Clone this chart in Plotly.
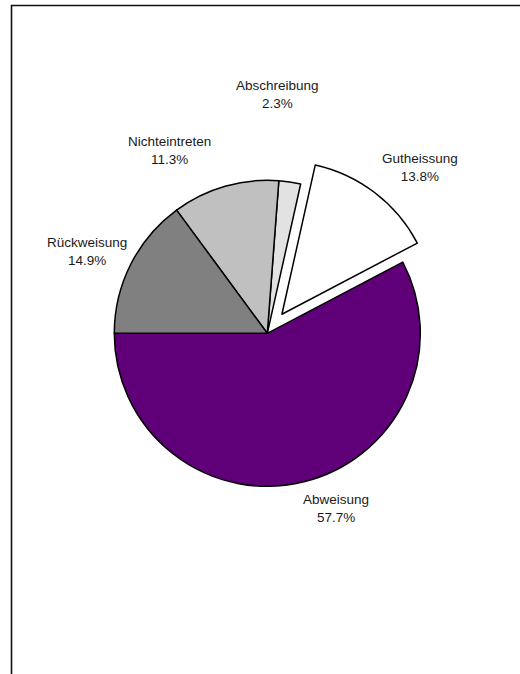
import math
import plotly.graph_objects as go

# ---- data ----
labels = ["Abweisung", "Gutheissung", "Abschreibung", "Nichteintreten", "Rückweisung"]
values = [57.7, 13.8, 2.3, 11.3, 14.9]
colors = ["#5F0078", "#FFFFFF", "#E2E2E2", "#C0C0C0", "#808080"]
pulls = [0, 0.157, 0, 0, 0]

# ---- layout geometry (pixels) ----
W, H = 520, 674
cx, cy, r = 267.3, 333.3, 153.0
maxpull = max(pulls)
box = 2 * r * (1 + maxpull)
dom_x = [(cx - box / 2) / W, (cx + box / 2) / W]
dom_y = [1 - (cy + box / 2) / H, 1 - (cy - box / 2) / H]
total = sum(values)
start_angle = 180.0  # math degrees (9 o'clock); first slice runs down from here
rotation = 270 - 360 * values[0] / total  # plotly: first slice clockwise from rotation

# label placement (Excel-like outside labels): radial factor and angle tweak
label_dist = [1.227, 1.319, 1.565, 1.356, 1.293]
label_nudge = [7.6, -5.2, 6.0, 12.0, 2.5]

fig = go.Figure(go.Pie(
    labels=labels, values=values, sort=False,
    direction="counterclockwise", rotation=rotation,
    pull=pulls, textinfo="none", hoverinfo="label+percent",
    marker=dict(colors=colors, line=dict(color="#000000", width=1.5)),
    domain=dict(x=dom_x, y=dom_y), showlegend=False,
))

cum = 0.0
annotations = []
for lab, v, p, nd, ld in zip(labels, values, pulls, label_nudge, label_dist):
    mid = start_angle + 360 * (cum + v / 2) / total
    cum += v
    a = math.radians(mid + nd)
    d = r * (ld + p)
    x = cx + d * math.cos(a)
    y = cy - d * math.sin(a)
    annotations.append(dict(
        x=x / W, y=1 - y / H, xref="paper", yref="paper",
        text=f"{lab}<br>{v / total * 100:.1f}%", showarrow=False,
        xanchor="center", yanchor="middle", align="center",
        font=dict(family="Liberation Sans, Arial, sans-serif", size=13.5, color="#1A1A1A"),
    ))

fig.update_layout(
    width=W, height=H, margin=dict(l=0, r=0, t=0, b=0),
    paper_bgcolor="#FFFFFF", plot_bgcolor="#FFFFFF",
    annotations=annotations,
    shapes=[dict(type="rect", xref="paper", yref="paper",
                 x0=11.5 / W, x1=1.05, y0=-0.05, y1=1 - 5.5 / H,
                 line=dict(color="#111111", width=1.6))],
)

fig.write_html(
    "out.html",
    config={"displayModeBar": False},
    post_script="document.body.style.margin='0';document.body.style.overflow='hidden';",
)
